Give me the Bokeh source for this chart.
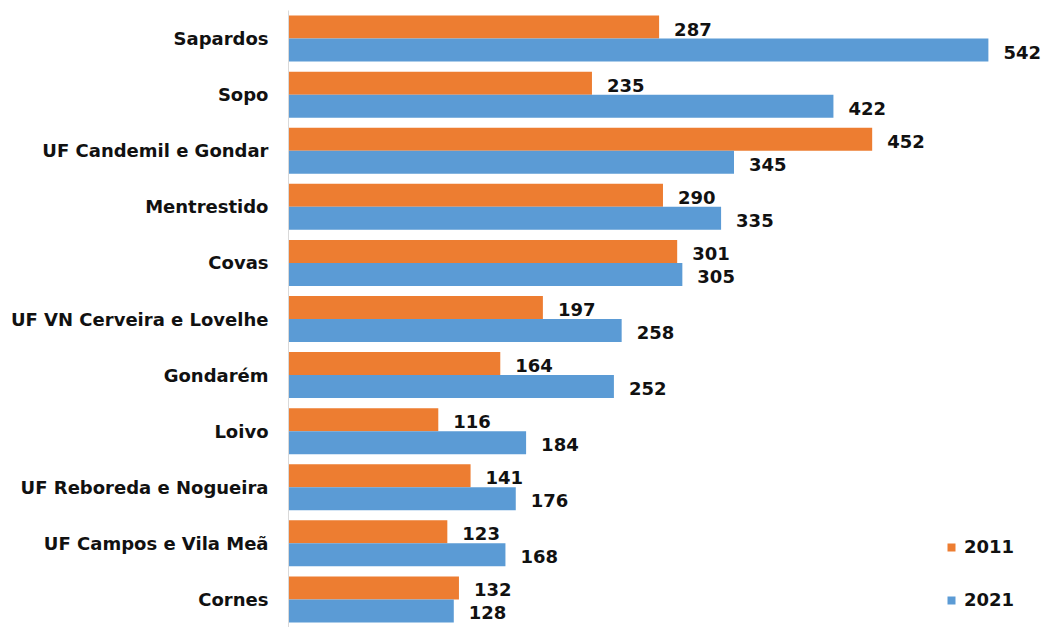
from bokeh.plotting import figure
from bokeh.models import ColumnDataSource, Range1d, FactorRange, Legend, LegendItem
from bokeh.transform import dodge
from bokeh.core.properties import value
from bokeh.embed import file_html
from bokeh.resources import INLINE

categories = ["Sapardos", "Sopo", "UF Candemil e Gondar", "Mentrestido", "Covas",
              "UF VN Cerveira e Lovelhe", "Gondarém", "Loivo",
              "UF Reboreda e Nogueira", "UF Campos e Vila Meã", "Cornes"]
values_2011 = [287, 235, 452, 290, 301, 197, 164, 116, 141, 123, 132]
values_2021 = [542, 422, 345, 335, 305, 258, 252, 184, 176, 168, 128]
series_names = ["2011", "2021"]

ORANGE = "#ED7D31"
BLUE = "#5B9BD5"
FONT = "DejaVu Sans"

src = ColumnDataSource(dict(
    cat=categories,
    v2011=values_2011,
    v2021=values_2021,
    l2011=[str(v) for v in values_2011],
    l2021=[str(v) for v in values_2021],
))

p = figure(width=1046, height=627, output_backend="svg", toolbar_location=None,
           y_range=FactorRange(*list(reversed(categories)), range_padding=0),
           x_range=Range1d(0, 587),
           min_border_left=288, min_border_right=0, min_border_top=10, min_border_bottom=0)

p.outline_line_color = None
p.xgrid.visible = False
p.ygrid.visible = False
p.xaxis.visible = False
p.yaxis.axis_line_color = "#d9d9d9"
p.yaxis.axis_line_width = 1
p.yaxis.major_tick_line_color = None
p.yaxis.minor_tick_line_color = None
p.yaxis.major_tick_out = 0
p.yaxis.major_tick_in = 0
p.yaxis.minor_tick_out = 0
p.yaxis.major_label_standoff = 20
p.yaxis.major_label_text_font = FONT
p.yaxis.major_label_text_font_style = "bold"
p.yaxis.major_label_text_font_size = "18px"
p.yaxis.major_label_text_color = "#111111"

h = 0.41
r1 = p.hbar(y=dodge("cat", h / 2, range=p.y_range), right="v2011", left=0, height=h,
            source=src, fill_color=ORANGE, line_color=None)
r2 = p.hbar(y=dodge("cat", -h / 2, range=p.y_range), right="v2021", left=0, height=h,
            source=src, fill_color=BLUE, line_color=None)

for col, lab, off in (("v2011", "l2011", h / 2), ("v2021", "l2021", -h / 2)):
    p.text(x=col, y=dodge("cat", off, range=p.y_range), text=lab, source=src,
           x_offset=15, y_offset=2, text_baseline="middle", text_align="left",
           text_font=value(FONT), text_font_style="bold", text_font_size="18px",
           text_color="#111111")

legend = Legend(items=[LegendItem(label=series_names[0], renderers=[r1]),
                       LegendItem(label=series_names[1], renderers=[r2])],
                location=(658, 17), orientation="vertical")
legend.background_fill_alpha = 0
legend.border_line_color = None
legend.padding = 0
legend.margin = 0
legend.glyph_width = 10
legend.glyph_height = 10
legend.label_standoff = 8
legend.spacing = 32
legend.label_text_font = FONT
legend.label_text_font_style = "bold"
legend.label_text_font_size = "18px"
legend.label_text_color = "#111111"
p.add_layout(legend, "center")

open("out.html", "w").write(file_html(p, INLINE))
